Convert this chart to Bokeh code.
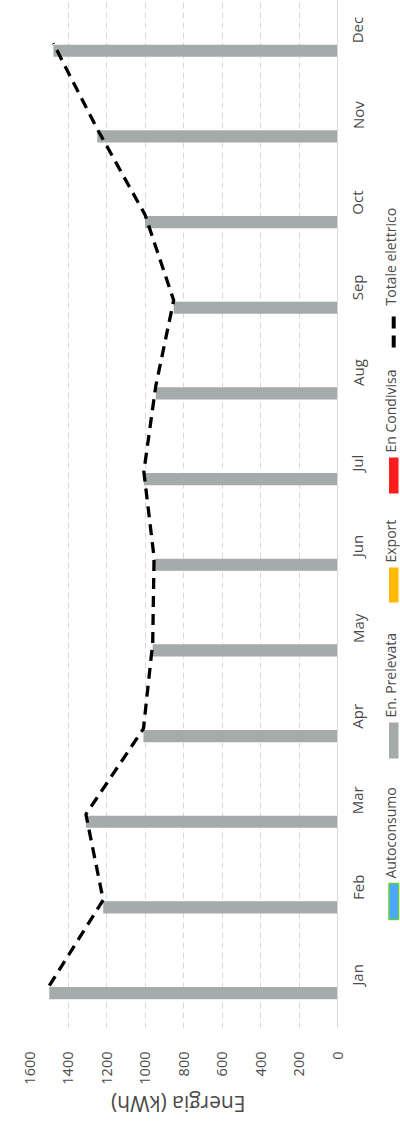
import math

from bokeh.core.properties import value
from bokeh.embed import file_html
from bokeh.layouts import column, row
from bokeh.models import ColumnDataSource, FactorRange, FixedTicker, Range1d
from bokeh.plotting import figure
from bokeh.resources import INLINE
from bokeh.transform import dodge

# ---- data -------------------------------------------------------------
months = ["Jan", "Feb", "Mar", "Apr", "May", "Jun",
          "Jul", "Aug", "Sep", "Oct", "Nov", "Dec"]
autoconsumo = [0, 0, 0, 0, 0, 0, 0, 0, 0, 0, 0, 0]
prelevata = [1497, 1217, 1307, 1008, 960, 953, 1006, 944, 851, 1000, 1248, 1476]
export = [0, 0, 0, 0, 0, 0, 0, 0, 0, 0, 0, 0]
condivisa = [0, 0, 0, 0, 0, 0, 0, 0, 0, 0, 0, 0]
totale = [a + b for a, b in zip(autoconsumo, prelevata)]

value_ticks = [0, 200, 400, 600, 800, 1000, 1200, 1400, 1600]
axis_title = "Energia (kWh)"
legend_labels = ["Autoconsumo", "En. Prelevata", "Export", "En Condivisa", "Totale elettrico"]

# ---- style --------------------------------------------------------------
FONT = "Open Sans"
TEXT = "#4a4a4a"
GRID = "#d9d9d9"
C_AUTO, C_AUTO_EDGE = "#4da6ff", "#5fd13a"
C_PREL = "#a5aaaa"
C_EXP = "#ffb900"
C_COND = "#ff1c1c"

W_PAGE, H_PAGE = 400, 1127
W_MAIN, H_MAIN = 380, 1087

src = ColumnDataSource(dict(month=months, auto=autoconsumo, prel=prelevata,
                            exp=export, cond=condivisa, tot=totale))

p = figure(width=W_MAIN, height=H_MAIN, output_backend="svg", toolbar_location=None,
           x_range=Range1d(1600, 0), y_range=FactorRange(*months),
           y_axis_location="right",
           min_border_left=29, min_border_right=42, min_border_top=0, min_border_bottom=54)
p.outline_line_color = None
p.background_fill_color = "white"
p.border_fill_color = "white"

bar_h = 0.142
for col, off, color in [("auto", -0.229, C_AUTO), ("prel", -0.087, C_PREL),
                        ("exp", 0.055, C_EXP), ("cond", 0.197, C_COND)]:
    p.hbar(y=dodge("month", off, range=p.y_range), left=0, right=col, height=bar_h,
           source=src, fill_color=color, line_color=None)

p.line(x="tot", y="month", source=src, line_color="black", line_width=3.3,
       line_dash="11 7")

# value axis (bottom, labels turned to read upward)
xa = p.xaxis[0]
xa.ticker = FixedTicker(ticks=value_ticks)
xa.axis_line_color = None
xa.major_tick_line_color = None
xa.minor_tick_line_color = None
xa.major_label_orientation = math.pi / 2
xa.major_label_standoff = 17
xa.major_label_text_font = FONT
xa.major_label_text_font_size = "14.5px"
xa.major_label_text_color = TEXT

# month axis (right)
ya = p.yaxis[0]
ya.axis_line_color = GRID
ya.axis_line_width = 1
ya.major_tick_line_color = None
ya.minor_tick_line_color = None
ya.major_label_orientation = math.pi / 2
ya.major_label_standoff = 14
ya.major_label_text_font = FONT
ya.major_label_text_font_size = "15px"
ya.major_label_text_color = TEXT

p.xgrid.grid_line_color = GRID
p.xgrid.grid_line_dash = "6 4"
p.xgrid.grid_line_width = 1
p.ygrid.grid_line_color = None

# axis title strip, upside down under the value axis
t = figure(width=W_MAIN, height=H_PAGE - H_MAIN, output_backend="svg", toolbar_location=None,
           x_range=Range1d(0, W_MAIN), y_range=Range1d(0, H_PAGE - H_MAIN),
           min_border=0)
t.axis.visible = False
t.grid.visible = False
t.outline_line_color = None
t.text(x=[183.5], y=[24], text=[axis_title], angle=math.pi,
       text_align="center", text_baseline="middle",
       text_font=value(FONT), text_font_size="21px", text_color=TEXT)

# legend strip on the right, items read bottom to top
lg = figure(width=W_PAGE - W_MAIN, height=H_PAGE, output_backend="svg", toolbar_location=None,
            x_range=Range1d(W_MAIN, W_PAGE), y_range=Range1d(0, H_PAGE),
            min_border=0)
lg.axis.visible = False
lg.grid.visible = False
lg.outline_line_color = None


def fy(y):
    return H_PAGE - y


swatches = [(883, 919, C_AUTO, C_AUTO_EDGE), (722, 758, C_PREL, None),
            (567, 602, C_EXP, None), (457, 493, C_COND, None)]
for (y0, y1, fc, lc) in swatches:
    lg.quad(left=[388.5], right=[398], top=[fy(y0)], bottom=[fy(y1)],
            fill_color=fc, line_color=lc, line_width=1.5)
lg.line(x=[393.2, 393.2], y=[fy(347), fy(312)], line_color="black", line_width=4,
        line_dash="12 7")

text_start = [878, 717, 562, 452, 305]
lg.text(x=[390.4] * 5, y=[fy(v) for v in text_start], text=legend_labels,
        angle=math.pi / 2, text_align="left", text_baseline="middle",
        text_font=value(FONT), text_font_size="14px", text_color=TEXT)

layout = row(column(p, t, spacing=0), lg, spacing=0)

open("out.html", "w").write(file_html(layout, INLINE))
